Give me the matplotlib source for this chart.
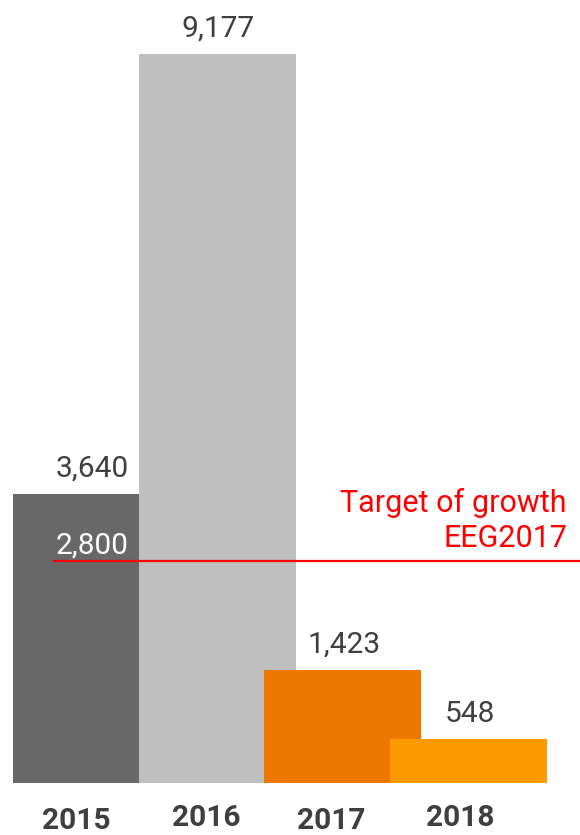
import matplotlib
matplotlib.use("Agg")
import matplotlib.pyplot as plt

years = ["2015", "2016", "2017", "2018"]
values = [3640, 9177, 1423, 548]
value_labels = ["3,640", "9,177", "1,423", "548"]
bar_colors = ["#686868", "#bfbfbf", "#ee7700", "#fd9a00"]
target_value = 2800
target_label = "2,800"
target_text = "Target of growth\nEEG2017"

plt.rcParams['font.family'] = ['Roboto', 'DejaVu Sans']

W, H = 580, 835
fig = plt.figure(figsize=(W / 100, H / 100), dpi=100)
ax = fig.add_axes([0, 0, 1, 1])

px_per_x = 125.7
left_px = 13
base_px = 52
px_per_unit = 729 / 9177
ax.set_xlim(-left_px / px_per_x, (W - left_px) / px_per_x)
ax.set_ylim(-base_px / px_per_unit, (H - base_px) / px_per_unit)
ax.axis('off')

bar_w = 157 / px_per_x
for i, (v, c) in enumerate(zip(values, bar_colors)):
    ax.bar(i, v, width=bar_w, align='edge', color=c, zorder=2 + i, linewidth=0)

txt_col = "#3f3f3f"
for i, (v, lab) in enumerate(zip(values, value_labels)):
    ax.annotate(lab, (i + bar_w / 2, v), xytext=(1, 17), textcoords='offset pixels',
                ha='center', va='baseline', fontsize=21.5, color=txt_col, zorder=10)

year_offsets = [-15, -11, -12, -8]
year_drop = [-46, -43, -46, -43]
for i, (y, dx, dy) in enumerate(zip(years, year_offsets, year_drop)):
    ax.annotate(y, (i + bar_w / 2, 0), xytext=(dx, dy), textcoords='offset pixels',
                ha='center', va='baseline', fontsize=21.5, fontweight='bold',
                color=txt_col, zorder=10)

x0 = (53 - left_px) / px_per_x
ax.plot([x0, ax.get_xlim()[1]], [target_value, target_value], color='#ff0000',
        lw=1.6, zorder=20, solid_capstyle='butt')
ax.annotate(target_label, (bar_w / 2, target_value), xytext=(1, 7),
            textcoords='offset pixels', ha='center', va='baseline',
            fontsize=21.5, color='white', zorder=21)
ax.annotate(target_text, ((567 - left_px) / px_per_x, target_value), xytext=(0, 8),
            textcoords='offset pixels', ha='right', va='bottom',
            fontsize=22, color='#ff0000', zorder=21, linespacing=1.25,
            multialignment='right')

fig.savefig("out.png", dpi=100)
